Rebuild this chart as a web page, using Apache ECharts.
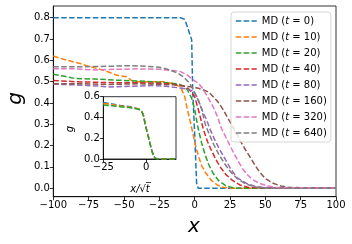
<!DOCTYPE html>
<html><head><meta charset="utf-8">
<script src="https://cdn.jsdelivr.net/npm/echarts@6/dist/echarts.min.js"></script>
<style>html,body{margin:0;padding:0;background:#fff}#c{width:352px;height:244px}</style>
</head><body><div id="c"></div>
<script>
const tLabels = ['0','10','20','40','80','160','320','640'];
const colors = ['#1f77b4','#ff7f0e','#2ca02c','#d62728','#9467bd','#8c564b','#e377c2','#7f7f7f'];

const x0 = [-100,-10,-7,-4.5,-2.1,-1.4,0.2,1.4,2.5,100];
const g0 = [0.8,0.8,0.792,0.745,0.696,0.465,0.226,0.023,0.0,0];
const x10 = [-100,-90,-81,-74,-65,-55,-48,-43.5,-35,-22,-15,-10,-7,-5.5,-3,-1,1,3,5,8,12,16,20,25,100];
const g10 = [0.62,0.60,0.585,0.57,0.555,0.53,0.523,0.50,0.50,0.50,0.49,0.475,0.43,0.38,0.31,0.25,0.19,0.145,0.105,0.07,0.035,0.015,0.004,0,0];
const x20 = [-100,-92,-85,-70,-55,-40,-30,-20,-12,-8,-5,-2,0,2.5,5,7.5,10,13,17,22,28,100];
const g20 = [0.535,0.525,0.515,0.512,0.507,0.503,0.50,0.495,0.49,0.48,0.46,0.42,0.37,0.28,0.21,0.155,0.11,0.07,0.035,0.012,0,0];
const x40 = [-100,-85,-70,-55,-40,-25,-15,-8,-4,0,3,6,9,12,15,18,22,27,32,38,100];
const g40 = [0.505,0.50,0.497,0.495,0.495,0.492,0.488,0.48,0.465,0.43,0.36,0.28,0.22,0.175,0.135,0.10,0.065,0.035,0.015,0.003,0];
const x80 = [-100,-85,-70,-60,-45,-30,-20,-10,-5,-1,2,4,6,8.5,11,14,17,20,23,26,30,36.7,42,48,100];
const g80 = [0.488,0.485,0.48,0.475,0.478,0.482,0.478,0.47,0.465,0.455,0.425,0.39,0.355,0.32,0.275,0.23,0.19,0.155,0.12,0.085,0.05,0.022,0.01,0.003,0];
const x160 = [-100,-80,-60,-40,-25,-15,-8,-3.3,2,6,10,13,16.5,20,23,26,29,32,35.5,39,42.5,46,50,55.5,61,67,100];
const g160 = [0.49,0.49,0.487,0.49,0.488,0.485,0.48,0.476,0.47,0.462,0.45,0.43,0.405,0.37,0.335,0.30,0.265,0.226,0.185,0.148,0.11,0.075,0.045,0.023,0.01,0.003,0];
const x320 = [-100,-85,-70,-55,-40,-25,-15,-10,-5,-1,3,6,9.5,13,16.5,19,22,25,28,31,34,37,41,46,52,58,100];
const g320 = [0.56,0.56,0.555,0.558,0.56,0.558,0.552,0.547,0.53,0.508,0.49,0.465,0.425,0.383,0.33,0.28,0.24,0.2,0.16,0.125,0.09,0.065,0.04,0.022,0.01,0.003,0];
const x640 = [-100,-80,-60,-45,-35,-25,-17.5,-12,-8,-4,-1,2,5,7.5,10.5,13.5,17,21,25,30,36,43,50,100];
const g640 = [0.57,0.57,0.572,0.575,0.572,0.568,0.555,0.54,0.523,0.495,0.465,0.42,0.37,0.30,0.25,0.205,0.16,0.117,0.08,0.045,0.02,0.006,0,0];

const xsAll = [x0,x10,x20,x40,x80,x160,x320,x640];
const gsAll = [g0,g10,g20,g40,g80,g160,g320,g640];

// inset: g vs x/sqrt(t)
const ix = [-25,-20,-15,-10,-6,-4,-2.5,-1.5,-0.6,0.5,1.35,2.3,3.3,4.3,5.3,8,17.5];
const igA = [0.545,0.53,0.515,0.505,0.49,0.48,0.46,0.42,0.345,0.27,0.216,0.15,0.087,0.035,0.007,0,0];
const igB = [0.535,0.525,0.51,0.50,0.488,0.478,0.458,0.418,0.343,0.268,0.214,0.148,0.085,0.034,0.006,0,0];
const igC = [0.52,0.512,0.503,0.495,0.485,0.476,0.456,0.416,0.34,0.265,0.212,0.146,0.084,0.033,0.006,0,0];
const insetGs = [igA, igB, igC];

const yTicks = [0,0.1,0.2,0.3,0.4,0.5,0.6,0.7,0.8];
const xTicks = [-100,-75,-50,-25,0,25,50,75,100];
const insetXTicks = [-25,0];
const insetYTicks = [0,0.2,0.4,0.6];

const FONT = 'DejaVu Sans';
const zip = (a,b) => a.map((v,i)=>[v,b[i]]);
const minus = s => String(s).replace('-','\u2212');
const dash = [5.5,2.4];

const series = [];
tLabels.forEach((t,i)=>{
  series.push({
    name: 't'+t, type:'line', xAxisIndex:0, yAxisIndex:0, symbol:'none', smooth:false,
    data: zip(xsAll[i], gsAll[i]),
    lineStyle:{color:colors[i], width:1.5, type:dash}, itemStyle:{color:colors[i]},
    animation:false, z:2
  });
});
insetGs.forEach((g,i)=>{
  series.push({
    name: 'inset'+i, type:'line', xAxisIndex:1, yAxisIndex:1, symbol:'none',
    data: zip(ix, g),
    lineStyle:{color:colors[i], width:1.5, type:dash}, itemStyle:{color:colors[i]},
    animation:false, z:5
  });
});

const axisCommon = {
  axisLine:{show:true, onZero:false, lineStyle:{color:'#000', width:0.8}},
  axisTick:{show:true, inside:false, length:3.5, lineStyle:{color:'#000', width:0.8}},
  splitLine:{show:false},
  axisLabel:{color:'#000', fontFamily:FONT, fontSize:10, margin:3.5}
};

const chart = echarts.init(document.getElementById('c'), null, {renderer:'canvas'});
chart.setOption({
  backgroundColor:'#fff',
  animation:false,
  grid:[
    {left:53.3, top:6, right:16, bottom:47.3, show:true, borderColor:'#000', borderWidth:0.8, backgroundColor:'transparent'},
    {left:103.3, top:96.7, width:72.7, height:62.3, show:true, borderColor:'#000', borderWidth:0.8, backgroundColor:'#fff', z:4}
  ],
  xAxis:[
    Object.assign({}, axisCommon, {type:'value', gridIndex:0, min:-100, max:100, interval:25,
      axisLabel:Object.assign({}, axisCommon.axisLabel, {formatter:v=>minus(v)})}),
    Object.assign({}, axisCommon, {type:'value', gridIndex:1, min:-25, max:17.5, z:4,
      axisTick:Object.assign({}, axisCommon.axisTick, {customValues:insetXTicks}),
      axisLabel:Object.assign({}, axisCommon.axisLabel, {customValues:insetXTicks, formatter:v=>minus(v)})})
  ],
  yAxis:[
    Object.assign({}, axisCommon, {type:'value', gridIndex:0, min:-0.04, max:0.855,
      axisTick:Object.assign({}, axisCommon.axisTick, {customValues:yTicks}),
      axisLabel:Object.assign({}, axisCommon.axisLabel, {customValues:yTicks, formatter:v=>v.toFixed(1)})}),
    Object.assign({}, axisCommon, {type:'value', gridIndex:1, min:0, max:0.6, z:4,
      axisTick:Object.assign({}, axisCommon.axisTick, {customValues:insetYTicks}),
      axisLabel:Object.assign({}, axisCommon.axisLabel, {customValues:insetYTicks, formatter:v=>v.toFixed(1)})})
  ],
  legend:{
    data: tLabels.map(t=>'t'+t),
    orient:'vertical', left:231, top:12,
    padding:[4,4,4,4], itemWidth:21, itemHeight:12, itemGap:6,
    backgroundColor:'rgba(255,255,255,0.8)', borderColor:'#cccccc', borderWidth:0.8, borderRadius:3,
    itemStyle:{opacity:0},
    lineStyle:{type:dash, width:1.5},
    textStyle:{color:'#000', fontFamily:FONT, fontSize:10,
      rich:{i:{fontStyle:'italic', fontFamily:FONT, fontSize:10, color:'#000'}, r:{fontFamily:FONT, fontSize:10, color:'#000'}}},
    formatter: n => '{r|MD (}{i|t}{r| = ' + n.slice(1) + ')}',
    selectedMode:false, z:10
  },
  graphic:[
    {type:'text', left:6, top:92, rotation:Math.PI/2, style:{text:'g', font:'italic 20px "DejaVu Sans"', fill:'#000'}},
    {type:'text', x:194, y:227, style:{text:'x', font:'italic 20px "DejaVu Sans"', fill:'#000', textAlign:'center', textVerticalAlign:'middle'}},
    {type:'text', x:70, y:129, rotation:Math.PI/2, style:{text:'g', font:'italic 10px "DejaVu Sans"', fill:'#000', textAlign:'center', textVerticalAlign:'middle'}},
    {type:'text', x:140, y:189, style:{text:'x/\u221At\u0305', font:'italic 10px "DejaVu Sans"', fill:'#000', textAlign:'center', textVerticalAlign:'middle'}}
  ],
  series: series
});
</script></body></html>
